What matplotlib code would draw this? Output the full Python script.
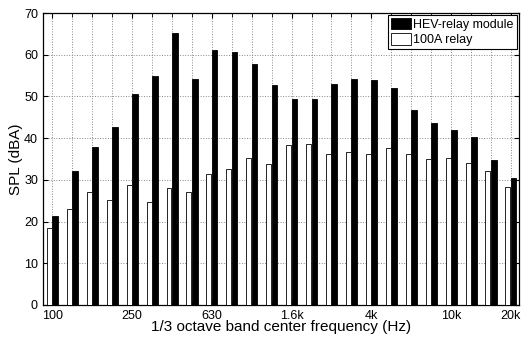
import matplotlib
matplotlib.use("Agg")
import matplotlib.pyplot as plt
import numpy as np

bands = ["100", "125", "160", "200", "250", "315", "400", "500", "630", "800",
         "1k", "1.25k", "1.6k", "2k", "2.5k", "3.15k", "4k", "5k", "6.3k", "8k",
         "10k", "12.5k", "16k", "20k"]
relay_100a = [18.5, 23.1, 27.1, 25.1, 28.8, 24.7, 28.1, 27.2, 31.3, 32.7,
              35.3, 33.7, 38.4, 38.6, 36.3, 36.7, 36.1, 37.7, 36.2, 35.0,
              35.2, 34.0, 32.2, 28.3]
hev_module = [21.3, 32.2, 37.9, 42.6, 50.5, 55.0, 65.1, 54.2, 61.2, 60.6,
              57.7, 52.8, 49.5, 49.3, 53.0, 54.3, 54.0, 52.1, 46.8, 43.7,
              42.0, 40.2, 34.7, 30.4]
tick_labels = ["100", "250", "630", "1.6k", "4k", "10k", "20k"]
tick_bands = ["100", "250", "630", "1.6k", "4k", "10k", "20k"]

plt.rcParams['font.family'] = ['Liberation Sans', 'DejaVu Sans']

fig = plt.figure(figsize=(5.22, 3.43), dpi=100)
ax = fig.add_axes([0.082, 0.111, 0.912, 0.851])

x = np.arange(1, len(bands) + 1)
w = 0.25
ax.bar(x + 0.14, hev_module, width=w + 0.03, color='black', edgecolor='black',
       linewidth=0.6, label='HEV-relay module', zorder=3)
ax.bar(x - 0.15, relay_100a, width=w, color='white', edgecolor='black',
       linewidth=0.6, label='100A relay', zorder=3)

ax.set_xlim(0.52, 24.4)
ax.set_ylim(0, 70)
ax.set_yticks(np.arange(0, 71, 10))
pos = [bands.index(b) + 1 for b in tick_bands]
ax.set_xticks(pos)
ax.set_xticklabels(tick_labels)
ax.set_xticks(x, minor=True)
ax.tick_params(which='both', direction='in', top=True, right=True, labelsize=9)
ax.tick_params(which='minor', length=3)
ax.grid(True, which='both', axis='x', linestyle=':', color='#888888', linewidth=0.7, zorder=0)
ax.grid(True, which='major', axis='y', linestyle=':', color='#888888', linewidth=0.7, zorder=0)
ax.set_axisbelow(True)
for s in ax.spines.values():
    s.set_linewidth(0.9)

ax.set_xlabel("1/3 octave band center frequency (Hz)", fontsize=11, labelpad=-1)
ax.set_ylabel("SPL (dBA)", fontsize=11, labelpad=1)

leg = ax.legend(loc='upper right', fontsize=9, fancybox=False, framealpha=1,
                edgecolor='black', borderpad=0.25, handlelength=1.6,
                handleheight=1.0, handletextpad=0.2, labelspacing=0.2,
                borderaxespad=0.15)
leg.get_frame().set_linewidth(0.8)

fig.savefig("out.png", dpi=100)
